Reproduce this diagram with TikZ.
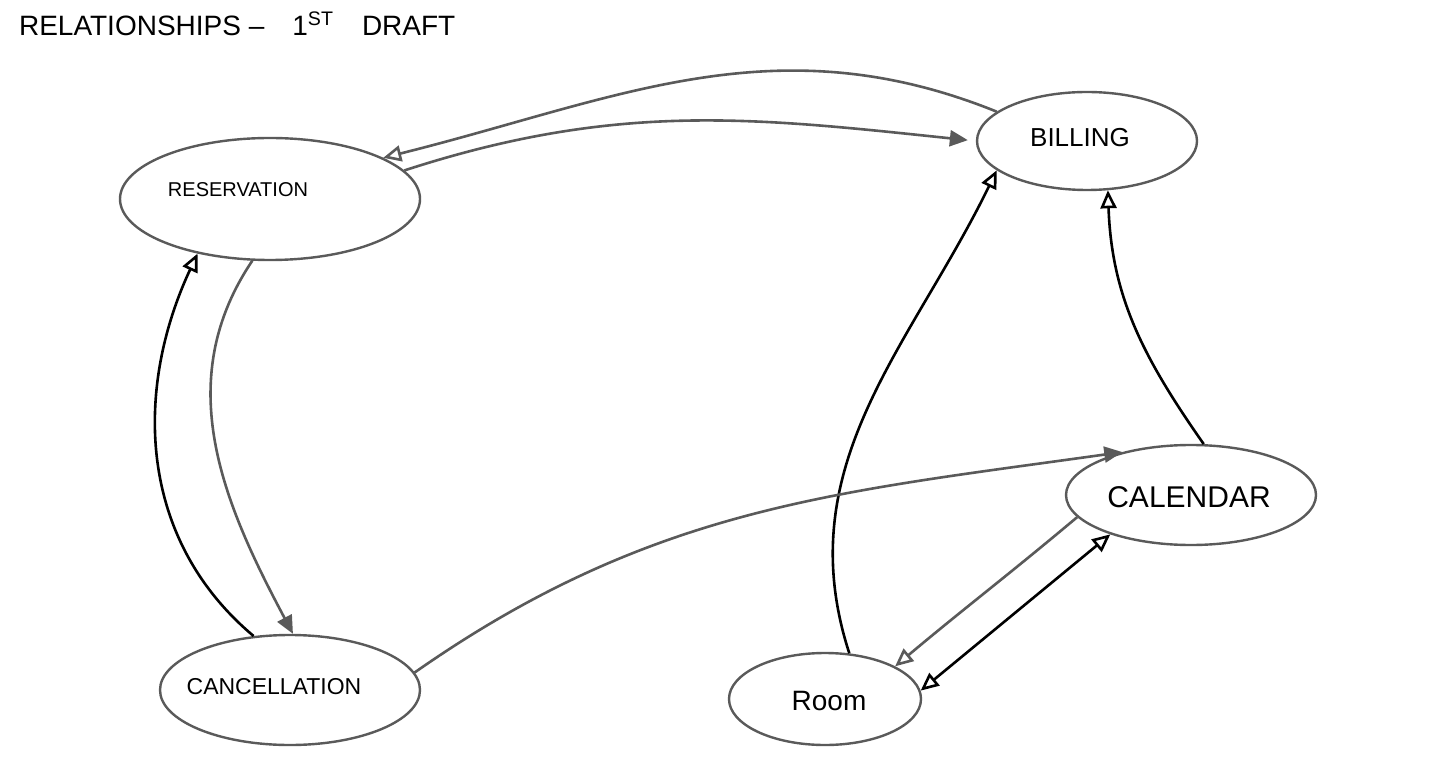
\documentclass[tikz,border=0pt]{standalone}
\usepackage{fontspec}
\setmainfont{Liberation Sans}
\usepackage{tikz}
\usetikzlibrary{shapes.geometric,arrows.meta}
\tikzset{>={Triangle[open,length=9pt,width=8pt]}}
\definecolor{LineGrey}{HTML}{5A5A5A}
\tikzset{
    blob/.style={ellipse, draw=LineGrey, line width=1.2pt, inner sep=0pt},
    link/.style={line width=1.3pt, draw=black},
    softlink/.style={line width=1.3pt, draw=LineGrey},
    fullhead/.style={-{Triangle[length=9pt,width=8pt]}}
}

\begin{document}
\begin{tikzpicture}[x=0.5pt,y=-0.5pt]
    \useasboundingbox[fill=white] (0,0) rectangle (1449,780);
    \node[anchor=west, font=\fontsize{14}{16}\selectfont] (title) at (12,24) {RELATIONSHIPS –\quad 1\textsuperscript{ST}\quad DRAFT};

    \node[blob, minimum width=150pt, minimum height=61pt] (res) at (270,199) {};
    \node[font=\fontsize{10}{12}\selectfont] (reslbl) at (238,190) {RESERVATION};
    \node[blob, minimum width=110pt, minimum height=49pt] (bill) at (1087,141) {};
    \node[font=\fontsize{13}{15}\selectfont] (billlbl) at (1080,138) {BILLING};
    \node[blob, minimum width=125pt, minimum height=50pt] (cal) at (1191,495) {};
    \node[font=\fontsize{15}{17}\selectfont] (callbl) at (1189,497) {CALENDAR};
    \node[blob, minimum width=130pt, minimum height=55pt] (canc) at (290,690) {};
    \node[font=\fontsize{11.5}{13}\selectfont] (canclbl) at (274,687) {CANCELLATION};
    \node[blob, minimum width=96pt, minimum height=46pt] (room) at (825,699) {};
    \node[font=\fontsize{14}{16}\selectfont] (roomlbl) at (829,701) {Room};

    % top pair between reservation and billing
    \draw[softlink,->] (bill.162) to[out=158,in=14] (res.20);
    \draw[softlink,fullhead,shorten >=4pt] (res.12) to[out=18,in=174] (bill.180);
    % into billing
    \draw[link,->] (room.62) to[out=108,in=244] (bill.198);
    \draw[link,->] (cal.76) to[out=125,in=-88] (bill.-67);
    % cancellation to calendar
    \draw[softlink,fullhead] (canc.8) to[out=35,in=188] (cal.148);
    % reservation and cancellation
    \draw[softlink,fullhead] (res.-106) to[out=236,in=118] (canc.87);
    \draw[link,->] (canc.124) to[out=140,in=245] (res.217);
    % calendar and room
    \draw[softlink,->] (cal.191) to[out=220,in=40] (room.25);
    \draw[link,<->] (room.5) -- (cal.206);
\end{tikzpicture}
\end{document}
